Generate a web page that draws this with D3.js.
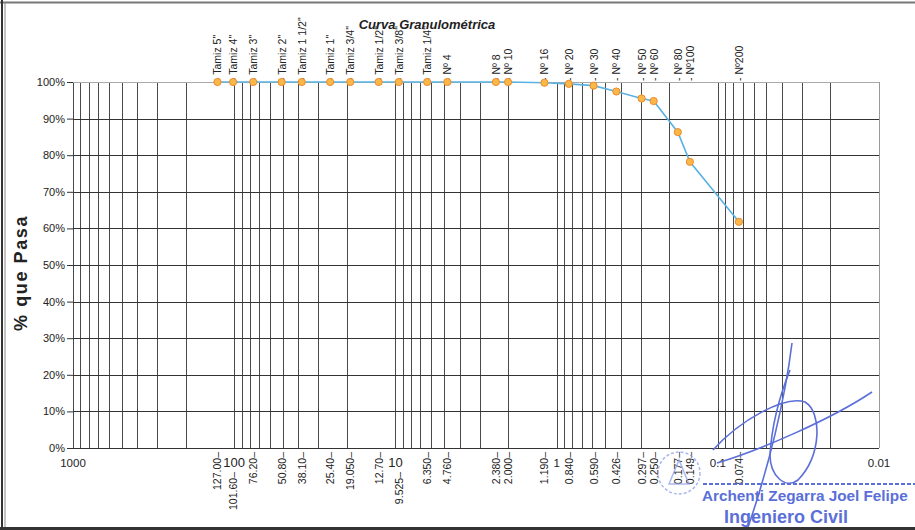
<!DOCTYPE html>
<html>
<head>
<meta charset="utf-8">
<script src="https://cdn.jsdelivr.net/npm/d3@7"></script>
<style>
  body { margin: 0; background: #fff; }
  text { font-family: "Liberation Sans", Arial, sans-serif; }
</style>
</head>
<body>
<div id="graph"></div>
<script>
// datos del ensayo granulométrico
const tamices = ['Tamiz 5"', 'Tamiz 4"', 'Tamiz 3"', 'Tamiz 2"', 'Tamiz 1 1/2"', 'Tamiz 1"', 'Tamiz 3/4"',
  'Tamiz 1/2"', 'Tamiz 3/8"', 'Tamiz 1/4"', 'Nº 4', 'Nº 8', 'Nº 10', 'Nº 16', 'Nº 20', 'Nº 30', 'Nº 40',
  'Nº 50', 'Nº 60', 'Nº 80', 'Nº100', 'Nº200'];
const aberturas = [127.00, 101.60, 76.20, 50.80, 38.10, 25.40, 19.050, 12.70, 9.525, 6.350, 4.760,
  2.380, 2.000, 1.190, 0.840, 0.590, 0.426, 0.297, 0.250, 0.177, 0.149, 0.074];
const aberturaLabels = ['127.00', '101.60', '76.20', '50.80', '38.10', '25.40', '19.050', '12.70', '9.525',
  '6.350', '4.760', '2.380', '2.000', '1.190', '0.840', '0.590', '0.426', '0.297', '0.250', '0.177', '0.149', '0.074'];
const pasa = [100, 100, 100, 100, 100, 100, 100, 100, 100, 100, 100, 100, 100,
  99.8, 99.5, 99.0, 97.4, 95.5, 94.8, 86.3, 78.2, 61.8];
const decadas = [1000, 100, 10, 1, 0.1, 0.01];
const decadaLabels = ['1000', '100', '10', '1', '0.1', '0.01'];
const yTicks = [0, 10, 20, 30, 40, 50, 60, 70, 80, 90, 100];

const W = 915, H = 530;
const mLeft = 73, mRight = 879, mTop = 82, mBottom = 448;

const svg = d3.select("#graph").append("svg")
  .attr("width", W).attr("height", H);

// marco de la hoja
svg.append("line").attr("x1", 0).attr("x2", W).attr("y1", 2.5).attr("y2", 2.5)
  .attr("stroke", "#777").attr("stroke-width", 2);
svg.append("line").attr("x1", 2).attr("x2", 2).attr("y1", 0).attr("y2", H)
  .attr("stroke", "#333").attr("stroke-width", 2);
svg.append("line").attr("x1", 5).attr("x2", 5).attr("y1", 2).attr("y2", H)
  .attr("stroke", "#888").attr("stroke-width", 1);

const x = d3.scaleLog().domain([1000, 0.01]).range([mLeft, mRight]);
const y = d3.scaleLinear().domain([0, 100]).range([mBottom, mTop]);

// rejilla logarítmica
let gridX = [];
decadas.forEach(d => {
  if (d === 1000) { gridX.push(d); return; }
  for (let k = 1; k <= 9; k++) gridX.push(d * k);
});
gridX = gridX.filter(v => v <= 1000 && v >= 0.01);

const grid = svg.append("g");
grid.selectAll(".vx").data(gridX).join("line")
  .attr("x1", d => Math.round(x(d)) + 0.5).attr("x2", d => Math.round(x(d)) + 0.5)
  .attr("y1", mTop).attr("y2", mBottom)
  .attr("stroke", "#4a4a4a").attr("stroke-width", 1);
grid.selectAll(".hy").data(yTicks).join("line")
  .attr("x1", mLeft).attr("x2", mRight)
  .attr("y1", d => Math.round(y(d)) + 0.5).attr("y2", d => Math.round(y(d)) + 0.5)
  .attr("stroke", d => d === 100 ? "#aaa" : "#333").attr("stroke-width", 1);
svg.append("line").attr("x1", mRight + 0.5).attr("x2", mRight + 0.5).attr("y1", mTop).attr("y2", mBottom)
  .attr("stroke", "#999");

// eje Y
svg.append("g").selectAll("text").data(yTicks).join("text")
  .attr("x", 65).attr("y", d => y(d) + 4)
  .attr("text-anchor", "end").attr("font-size", 11).attr("fill", "#222")
  .text(d => d + "%");
svg.append("g").selectAll("line").data(yTicks).join("line")
  .attr("x1", 67).attr("x2", mLeft).attr("y1", d => y(d) + 0.5).attr("y2", d => y(d) + 0.5)
  .attr("stroke", "#333");

svg.append("text")
  .attr("transform", `translate(27,${(mTop + mBottom) / 2 + 8}) rotate(-90)`)
  .attr("text-anchor", "middle").attr("font-size", 18).attr("font-weight", "bold")
  .attr("fill", "#222").attr("letter-spacing", 1.6)
  .text("% que Pasa");

// título
svg.append("text").attr("x", 427).attr("y", 29)
  .attr("text-anchor", "middle").attr("font-size", 13)
  .attr("font-weight", "bold").attr("font-style", "italic").attr("fill", "#222")
  .text("Curva Granulométrica");

// etiquetas de décadas
svg.append("g").selectAll("text").data(decadas).join("text")
  .attr("x", d => x(d)).attr("y", 467)
  .attr("text-anchor", "middle").attr("font-size", d => (d === 100 || d === 10) ? 13 : 11.5)
  .attr("fill", "#222")
  .text((d, i) => decadaLabels[i]);

// etiquetas de aberturas (abajo)
const nearDecade = v => decadas.some(d => Math.abs(x(d) - x(v)) < 5);
svg.append("g").selectAll("text").data(aberturas).join("text")
  .attr("transform", d => `translate(${x(d) + 4},${nearDecade(d) ? 472 : 452}) rotate(-90)`)
  .attr("text-anchor", "end").attr("font-size", 10.5).attr("fill", "#222")
  .text((d, i) => aberturaLabels[i] + "–");

// etiquetas de tamices (arriba)
svg.append("g").selectAll("text").data(aberturas).join("text")
  .attr("transform", d => `translate(${x(d) + 4},${81}) rotate(-90)`)
  .attr("text-anchor", "start").attr("font-size", 10.5).attr("fill", "#222")
  .text((d, i) => "- " + tamices[i]);

// curva granulométrica
const puntos = aberturas.map((a, i) => [a, pasa[i]]);
svg.append("path").datum(puntos)
  .attr("fill", "none").attr("stroke", "#5ab2e2").attr("stroke-width", 1.6)
  .attr("d", d3.line().x(d => x(d[0])).y(d => y(d[1])));
svg.append("g").selectAll("circle").data(puntos).join("circle")
  .attr("cx", d => x(d[0])).attr("cy", d => y(d[1])).attr("r", 3.6)
  .attr("fill", "#fbb848").attr("stroke", "#ec8a2c").attr("stroke-width", 1);

// sello y firma
const azul = "#5b6fd8";
const sello = svg.append("g").attr("opacity", 0.75);
sello.append("circle").attr("cx", 679).attr("cy", 473).attr("r", 21)
  .attr("fill", "none").attr("stroke", "#8fa0e8").attr("stroke-width", 1.5).attr("stroke-dasharray", "3,2");
sello.append("path").attr("d", "M669,484 L679,460 L689,484 Z")
  .attr("fill", "none").attr("stroke", "#8fa0e8").attr("stroke-width", 1.5);
svg.append("line").attr("x1", 703).attr("x2", W).attr("y1", 484).attr("y2", 484)
  .attr("stroke", azul).attr("stroke-width", 2).attr("stroke-dasharray", "4,2");
svg.append("text").attr("x", 702).attr("y", 501)
  .attr("font-size", 15.3).attr("font-weight", "bold").attr("fill", azul)
  .text("Archenti Zegarra Joel Felipe");
svg.append("text").attr("x", 724).attr("y", 523)
  .attr("font-size", 18).attr("font-weight", "bold").attr("fill", azul)
  .text("Ingeniero Civil");
const firma = svg.append("g").attr("fill", "none").attr("stroke", azul).attr("stroke-width", 1.6);
firma.append("path").attr("d", "M792,343 C785,400 768,470 747,530");
firma.append("path").attr("d", "M713,450 C740,420 785,395 805,402 C822,412 822,455 798,480 C785,490 770,475 770,455 C772,420 782,390 790,370");
firma.append("path").attr("d", "M717,463 C760,450 830,420 872,392");

svg.append("line").attr("x1", 0).attr("x2", W).attr("y1", 528.5).attr("y2", 528.5)
  .attr("stroke", "#333").attr("stroke-width", 3);
</script>
</body>
</html>
